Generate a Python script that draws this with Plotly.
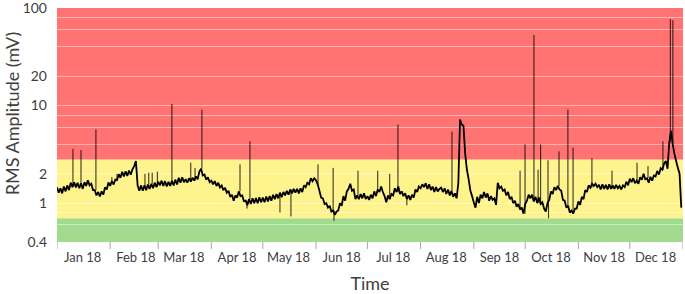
import numpy as np
import pandas as pd
import plotly.graph_objects as go

# Daily RMS amplitude (mV), month by month
jan = [1.45, 1.28, 1.42, 1.26, 1.48, 1.32, 1.52, 1.36, 1.62, 1.46, 1.64, 1.45, 1.62, 1.42, 1.60, 1.40,
       1.64, 1.50, 1.72, 1.52, 1.58, 1.36, 1.36, 1.20, 1.30, 1.17, 1.32, 1.22, 1.45, 1.38, 1.63]
feb = [1.50, 1.68, 1.55, 1.74, 1.72, 1.98, 1.82, 2.10, 1.88, 2.12, 1.90, 2.16, 1.96, 2.22, 2.40, 2.70,
       1.52, 1.34, 1.52, 1.34, 1.52, 1.36, 1.55, 1.40, 1.58, 1.42, 1.62, 1.46]
mar = [1.66, 1.52, 1.70, 1.50, 1.68, 1.48, 1.65, 1.50, 1.70, 1.52, 1.74, 1.55, 1.82, 1.62, 1.84, 1.64,
       1.76, 1.62, 1.80, 1.66, 1.82, 1.70, 1.88, 1.76, 2.10, 2.25, 1.92, 1.96, 1.74, 1.84, 1.64]
apr = [1.70, 1.56, 1.68, 1.50, 1.62, 1.45, 1.52, 1.36, 1.44, 1.28, 1.34, 1.16, 1.22, 1.06, 1.20, 1.14,
       1.32, 1.18, 1.20, 1.05, 1.06, 0.95, 1.10, 0.98, 1.12, 1.00, 1.13, 1.00, 1.15, 1.02]
may = [1.14, 1.02, 1.17, 1.04, 1.18, 1.06, 1.22, 1.10, 1.24, 1.12, 1.28, 1.15, 1.30, 1.20, 1.34, 1.22,
       1.38, 1.26, 1.40, 1.28, 1.40, 1.26, 1.42, 1.30, 1.52, 1.46, 1.62, 1.56, 1.80, 1.68, 1.80]
jun = [1.72, 1.56, 1.34, 1.14, 1.12, 0.98, 1.00, 0.90, 0.94, 0.82, 0.84, 0.76, 0.82, 0.84, 1.00, 0.94,
       1.18, 1.06, 1.32, 1.40, 1.58, 1.34, 1.38, 1.10, 1.20, 1.10, 1.24, 1.12, 1.26, 1.10]
jul = [1.18, 1.08, 1.22, 1.12, 1.32, 1.18, 1.38, 1.30, 1.48, 1.30, 1.18, 1.02, 1.20, 1.10, 1.24, 1.20,
       1.42, 1.30, 1.48, 1.24, 1.32, 1.18, 1.26, 1.10, 1.20, 1.08, 1.22, 1.14, 1.38, 1.30, 1.48]
aug = [1.42, 1.56, 1.46, 1.60, 1.40, 1.56, 1.36, 1.48, 1.30, 1.46, 1.32, 1.40, 1.44, 1.30, 1.42, 1.24,
       1.38, 1.20, 1.34, 1.16, 1.26, 1.12, 1.60, 7.20, 6.40, 6.20, 3.20, 2.20, 1.76, 1.35, 1.18]
sep = [1.02, 0.90, 1.16, 1.00, 1.22, 1.12, 1.30, 1.14, 1.26, 1.06, 1.18, 1.08, 1.12, 0.96, 1.62, 1.42,
       1.48, 1.34, 1.38, 1.20, 1.30, 1.10, 1.16, 1.00, 1.06, 0.92, 0.98, 0.86, 0.90, 0.78]
oct_ = [0.98, 1.06, 1.22, 1.12, 1.22, 1.04, 1.16, 1.00, 1.14, 0.98, 1.02, 0.88, 0.82, 1.00, 1.08, 1.32,
        1.24, 1.46, 1.36, 1.50, 1.38, 1.34, 1.08, 1.06, 0.90, 0.94, 0.80, 0.84, 0.78, 0.88, 0.88]
nov = [1.04, 0.96, 1.16, 1.10, 1.36, 1.30, 1.52, 1.44, 1.58, 1.50, 1.58, 1.46, 1.54, 1.38, 1.56, 1.40,
       1.54, 1.38, 1.56, 1.40, 1.52, 1.40, 1.54, 1.42, 1.50, 1.38, 1.52, 1.46, 1.66, 1.52]
dec = [1.78, 1.64, 1.80, 1.60, 1.70, 1.58, 1.84, 1.74, 2.00, 1.76, 1.80, 1.62, 1.86, 1.70, 1.92, 1.88,
       2.14, 1.96, 2.28, 2.20, 2.55, 2.70, 2.25, 4.20, 5.50, 4.00, 3.20, 2.70, 2.30, 2.00, 0.90]

# Short excursions (day of year, fractional; peak value in mV)
spike_days = [9.3, 14.0, 22.7, 32.0, 35.0, 51.3, 53.5, 55.5, 58.5, 67.0, 78.0, 80.5, 84.5,
              106.7, 110.8, 112.5, 130.0, 136.4, 152.2, 161.0, 161.5, 175.5, 187.0, 194.0,
              198.8, 204.0, 230.3, 270.0, 272.9, 278.1, 280.5, 282.0, 286.3, 286.6, 292.7,
              297.9, 300.9, 311.9, 323.6, 338.2, 344.6, 353.3, 357.6, 359.1]
spike_peaks = [3.6, 3.5, 5.7, 1.85, 2.0, 2.0, 2.05, 2.05, 2.1, 10.4, 2.6, 2.3, 9.1,
               2.5, 0.88, 4.3, 0.8, 0.73, 2.5, 2.3, 0.66, 2.15, 2.15, 2.0,
               6.4, 0.95, 5.4, 2.15, 4.0, 53.0, 2.2, 4.0, 2.75, 0.7, 3.4,
               9.1, 3.7, 2.9, 2.15, 2.6, 2.4, 4.3, 77.0, 75.0]

# Alarm bands (mV)
band_edges = [0.4, 0.7, 2.8, 100]
band_colors = ["#A2DB8E", "#FFF38D", "#FF7373"]

month_labels = ["Jan 18", "Feb 18", "Mar 18", "Apr 18", "May 18", "Jun 18",
                "Jul 18", "Aug 18", "Sep 18", "Oct 18", "Nov 18", "Dec 18"]
y_grid = [0.4, 0.6, 0.8, 1, 2, 4, 6, 8, 10, 20, 40, 60, 80, 100]
y_text = ["0.4", "", "", "1", "2", "", "", "", "10", "20", "", "", "", "100"]

values = jan + feb + mar + apr + may + jun + jul + aug + sep + oct_ + nov + dec
start = pd.Timestamp("2018-01-01")
dates = pd.date_range(start, periods=len(values), freq="D")

sx, sy = [], []
for d, p in zip(spike_days, spike_peaks):
    t = start + pd.Timedelta(days=d)
    base = values[int(d)]
    sx += [t, t, None]
    sy += [base, p, None]

fig = go.Figure()
fig.add_trace(go.Scatter(x=sx, y=sy, mode="lines",
                         line=dict(color="rgba(0,0,0,0.85)", width=1, simplify=False),
                         hoverinfo="skip", showlegend=False))
fig.add_trace(go.Scatter(x=dates, y=values, mode="lines",
                         line=dict(color="black", width=1.8, simplify=False),
                         showlegend=False))

for lo, hi, c in zip(band_edges[:-1], band_edges[1:], band_colors):
    fig.add_shape(type="rect", xref="paper", yref="y", x0=0, x1=1, y0=lo, y1=hi,
                  fillcolor=c, line_width=0, layer="below")

month_starts = pd.date_range("2018-01-01", "2019-01-01", freq="MS")
fig.update_xaxes(type="date", range=[month_starts[0], month_starts[-1]],
                 tickvals=[m + pd.Timedelta(days=15) for m in month_starts[:-1]],
                 ticktext=month_labels, ticks="", showgrid=False, automargin=False,
                 ticklabelstandoff=6,
                 tickfont=dict(family="Lato", size=13, color="#404040"),
                 title=dict(text="Time", font=dict(family="Lato", size=18, color="#404040"), standoff=16),
                 zeroline=False, showline=False)
# month boundary tick marks
for m in month_starts:
    fig.add_shape(type="line", xref="x", yref="paper", x0=m, x1=m, y0=0, y1=-0.03,
                  line=dict(color="#a6a6a6", width=1))

fig.update_yaxes(type="log", range=[np.log10(0.4) - 0.0005, 2.0005], tickvals=y_grid, ticktext=y_text,
                 showgrid=True, gridcolor="rgba(255,255,255,0.45)", gridwidth=1,
                 ticks="", ticklabelstandoff=9, zeroline=False, showline=False, automargin=False,
                 ticklabeloverflow="allow",
                 tickfont=dict(family="Lato", size=14, color="#404040"))

fig.add_annotation(text="RMS Amplitude (mV)", textangle=-90, xref="paper", yref="paper",
                   x=-0.072, y=0.55, xanchor="center", yanchor="middle", showarrow=False,
                   font=dict(family="Lato", size=18, color="#404040"))

fig.update_layout(width=685, height=294, margin=dict(l=57, r=2, t=8, b=52),
                  paper_bgcolor="white", plot_bgcolor="white", showlegend=False)

fig.write_html("out.html", post_script="document.body.style.margin='0';",
               config={"displayModeBar": False})
